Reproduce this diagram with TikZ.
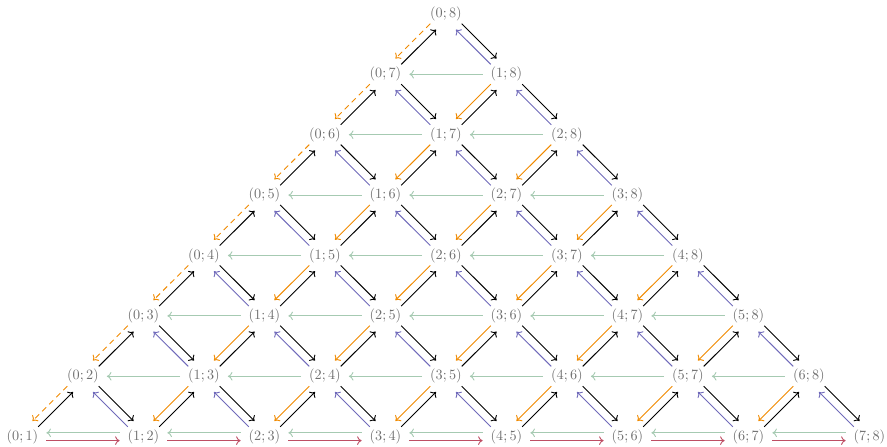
\documentclass[tikz,border=0pt]{standalone}
\usetikzlibrary{arrows.meta}
\definecolor{txtgray}{RGB}{110,110,110}
\definecolor{cgreen}{RGB}{166,202,178}
\definecolor{cblue}{RGB}{112,106,186}
\definecolor{corange}{RGB}{240,138,0}
\definecolor{cred}{RGB}{190,78,100}
\tikzset{
  lab/.style={text=txtgray, inner xsep=5.5pt, inner ysep=3.8pt},
  arr/.style={-{To[length=3.2pt,width=6pt]}, line width=0.65pt},
  sh/.style={transform canvas={shift={#1}}},
}
\begin{document}
\begin{tikzpicture}[x=0.704pt,y=0.704pt]
\useasboundingbox (0,0) rectangle (887,446);
% nodes
\foreach \j in {1,...,8}{
  \pgfmathtruncatemacro{\jm}{\j-1}
  \foreach \i in {0,...,\jm}{
    \node[lab] (n\i\j) at ({22.5+(\i+\j-1)*60.5},{9.3+(\j-\i-1)*60.4}) {$(\i;\j)$};
  }
}
% up-right edges (i;j) <-> (i;j+1)
\foreach \j in {1,...,7}{
  \pgfmathtruncatemacro{\jm}{\j-1}
  \pgfmathtruncatemacro{\jp}{\j+1}
  \foreach \i in {0,...,\jm}{
    \draw[arr, black, sh={(2.9,-2.9)}] (n\i\j) -- (n\i\jp);
    \ifnum\i=0
      \draw[arr, corange, dash pattern=on 4pt off 3pt, sh={(-2.9,2.9)}] (n\i\jp) -- (n\i\j);
    \else
      \draw[arr, corange, sh={(-2.9,2.9)}] (n\i\jp) -- (n\i\j);
    \fi
  }
}
% down-right edges (i;j) <-> (i+1;j)
\foreach \j in {2,...,8}{
  \pgfmathtruncatemacro{\jmm}{\j-2}
  \foreach \i in {0,...,\jmm}{
    \pgfmathtruncatemacro{\ip}{\i+1}
    \draw[arr, black, sh={(2.9,2.9)}] (n\i\j) -- (n\ip\j);
    \draw[arr, cblue, sh={(-2.9,-2.9)}] (n\ip\j) -- (n\i\j);
  }
}
% horizontal edges (i+1;j+1) -> (i;j), rows above the bottom
\foreach \j in {2,...,7}{
  \pgfmathtruncatemacro{\jmm}{\j-2}
  \pgfmathtruncatemacro{\jp}{\j+1}
  \foreach \i in {0,...,\jmm}{
    \pgfmathtruncatemacro{\ip}{\i+1}
    \draw[arr, cgreen] (n\ip\jp) -- (n\i\j);
  }
}
% bottom row
\foreach \i in {0,...,6}{
  \pgfmathtruncatemacro{\ip}{\i+1}
  \pgfmathtruncatemacro{\ipp}{\i+2}
  \draw[arr, cgreen, sh={(0,3.9)}] (n\ip\ipp) -- (n\i\ip);
  \draw[arr, cred, sh={(0,-3.9)}] (n\i\ip) -- (n\ip\ipp);
}
\end{tikzpicture}
\end{document}
